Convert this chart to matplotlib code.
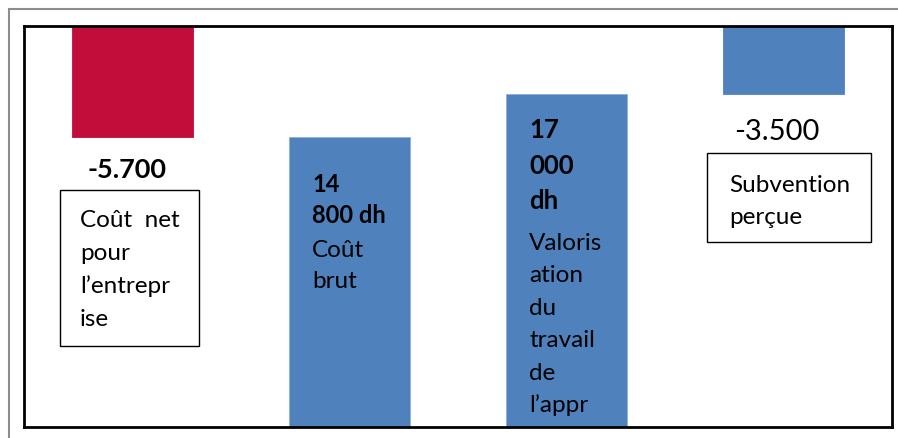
import matplotlib.pyplot as plt
from matplotlib.patches import Rectangle

# Apprenticeship cost breakdown (dh)
categories = ["Coût net pour l'entreprise", "Coût brut",
              "Valorisation du travail de l'apprenti", "Subvention perçue"]
values = [-5700, 14800, 17000, -3500]
bar_colors = ["#C20D3B", "#4F81BD", "#4F81BD", "#4F81BD"]
ymax = 20500  # negative amounts hang from the top of the frame

W, H = 898, 439
FONT = "Lato"
BODY = 17.5


def fx(x):
    return x / W


def fy(y):
    return 1 - y / H


def lines(fig, x, y0, step, texts, **kw):
    # stack words one under another, y0 is the first baseline in pixels
    for i, t in enumerate(texts):
        fig.text(fx(x), fy(y0 + i * step), t, va="baseline", ha="left",
                 family=FONT, **kw)


def box(fig, x0, y0, x1, y1):
    fig.patches.append(Rectangle((fx(x0), fy(y1)), fx(x1 - x0), (y1 - y0) / H,
                                 transform=fig.transFigure, fill=False,
                                 edgecolor="black", linewidth=1.0))


fig = plt.figure(figsize=(W / 100, H / 100), dpi=100)

# light grey outer frame
fig.patches.append(Rectangle((fx(9), -0.1), 1.2, fy(10) + 0.1,
                             transform=fig.transFigure, fill=False,
                             edgecolor="#8C8C8C", linewidth=1.5))

ax = fig.add_axes([fx(24), 1 - 428 / H, 868 / W, 401 / H])
x = range(len(values))
bottoms = [ymax if v < 0 else 0 for v in values]
ax.bar(x, values, bottom=bottoms, width=0.56, color=bar_colors,
       edgecolor=["#C20D3B", "#8EB0D9", "#8EB0D9", "#4F81BD"], linewidth=0.6,
       zorder=1)
ax.set_xlim(-0.5, len(values) - 0.5)
ax.set_ylim(0, ymax)
ax.set_xticks([])
ax.set_yticks([])
for s in ax.spines.values():
    s.set_linewidth(2.0)
    s.set_color("black")

# amounts
fig.text(fx(127), fy(178), "-5.700", ha="center", va="baseline",
         family=FONT, fontsize=19.5, fontweight="bold")
fig.text(fx(777), fy(140), "-3.500", ha="center", va="baseline",
         family=FONT, fontsize=21)

# captions
box(fig, 60, 191, 199, 347)
lines(fig, 80, 227, 33, ["Coût  net", "pour", "l\u2019entrepr", "ise"], fontsize=BODY)

lines(fig, 312, 192, 31.5, ["14", "800 dh"], fontsize=17, fontweight="bold")
lines(fig, 312, 257, 31.5, ["Coût", "brut"], fontsize=BODY)

lines(fig, 529, 138, 35.5, ["17", "000", "dh"], fontsize=18.5, fontweight="bold")
lines(fig, 529, 250, 32.4, ["Valoris", "ation", "du", "travail", "de", "l\u2019appr"],
      fontsize=BODY)

box(fig, 707, 154, 871, 243)
lines(fig, 729, 192, 32, ["Subvention", "perçue"], fontsize=BODY)

fig.savefig("out.png", dpi=100)
